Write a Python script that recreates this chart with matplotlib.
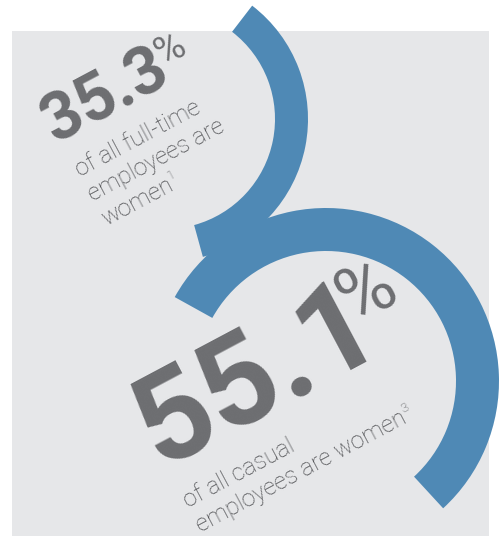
import matplotlib
matplotlib.use("Agg")
import matplotlib.pyplot as plt
import numpy as np
from matplotlib.patches import Rectangle, Wedge
from matplotlib.textpath import TextPath
from matplotlib.font_manager import FontProperties

# --- data ---
shares = [35.3, 55.1]                      # percent of a full circle
share_labels = ["35.3", "55.1"]
captions = [["of all full-time", "employees are", "women"],
            ["of all casual", "employees are women"]]
footnotes = ["1", "3"]

# --- style ---
W, H = 499, 536
BG = "#e6e7e9"
BLUE = "#4f89b5"
INK = "#6d6e71"
CAP_INK = "#4e4f52"
FONT = "Roboto"
ANGLE = 28  # text tilt, degrees

# ring layout (pixel coords, y up): centre, outer radius, band width, mid angle
rings = [
    dict(c=(165, 417), r=143, w=33, mid=-11.1),
    dict(c=(326, 155), r=173, w=43, mid=51.8),
]
# text layout: baseline anchor (image px), number em, caption em, line gap
blocks = [
    dict(num_at=(56, 144), num_em=66, pct_em=40, cap_at=(80, 177), cap_em=24, gap=28),
    dict(num_at=(160, 468), num_em=128, pct_em=76, cap_at=(188, 508), cap_em=24, gap=28),
]

plt.rcParams["font.family"] = [FONT, "DejaVu Sans"]

fig = plt.figure(figsize=(W / 100, H / 100), dpi=100)
ax = fig.add_axes([0, 0, 1, 1])
ax.set_xlim(0, W)
ax.set_ylim(0, H)
ax.set_aspect("equal")
ax.axis("off")

ax.add_patch(Rectangle((12, 0), 477, 505, facecolor=BG, edgecolor="none", zorder=0))

for share, ring in zip(shares, rings):
    span = share / 100 * 360
    ax.add_patch(Wedge(ring["c"], ring["r"], ring["mid"] - span / 2, ring["mid"] + span / 2,
                       width=ring["w"], facecolor=BLUE, edgecolor="none", zorder=1))

th = np.radians(ANGLE)
u = np.array([np.cos(th), np.sin(th)])    # along baseline
n = np.array([-np.sin(th), np.cos(th)])   # up


def put(p, s, em, weight="normal", color=INK):
    ax.text(p[0], p[1], s, rotation=ANGLE, rotation_mode="anchor", ha="left",
            va="baseline", fontsize=em * 0.72, color=color, fontweight=weight, zorder=2)


def advance(s, em, weight="normal"):
    tp = TextPath((0, 0), s, size=em, prop=FontProperties(family=FONT, weight=weight))
    return tp.get_extents().x1


for label, lines, note, blk in zip(share_labels, captions, footnotes, blocks):
    p0 = np.array([blk["num_at"][0], H - blk["num_at"][1]], dtype=float)
    put(p0, label, blk["num_em"], "bold")
    w = advance(label, blk["num_em"], "bold")
    rise = 0.71 * blk["num_em"] - 0.71 * blk["pct_em"]
    put(p0 + u * (w + 0.02 * blk["num_em"]) + n * rise, "%", blk["pct_em"])

    c0 = np.array([blk["cap_at"][0], H - blk["cap_at"][1]], dtype=float)
    for i, line in enumerate(lines):
        pl = c0 - n * blk["gap"] * i
        put(pl, line, blk["cap_em"], "light", CAP_INK)
    wl = advance(lines[-1], blk["cap_em"], "light")
    pl = c0 - n * blk["gap"] * (len(lines) - 1)
    put(pl + u * (wl + 2) + n * 0.45 * blk["cap_em"], note, blk["cap_em"] * 0.55,
        "light", CAP_INK)

fig.savefig("out.png", dpi=100, facecolor="white")
